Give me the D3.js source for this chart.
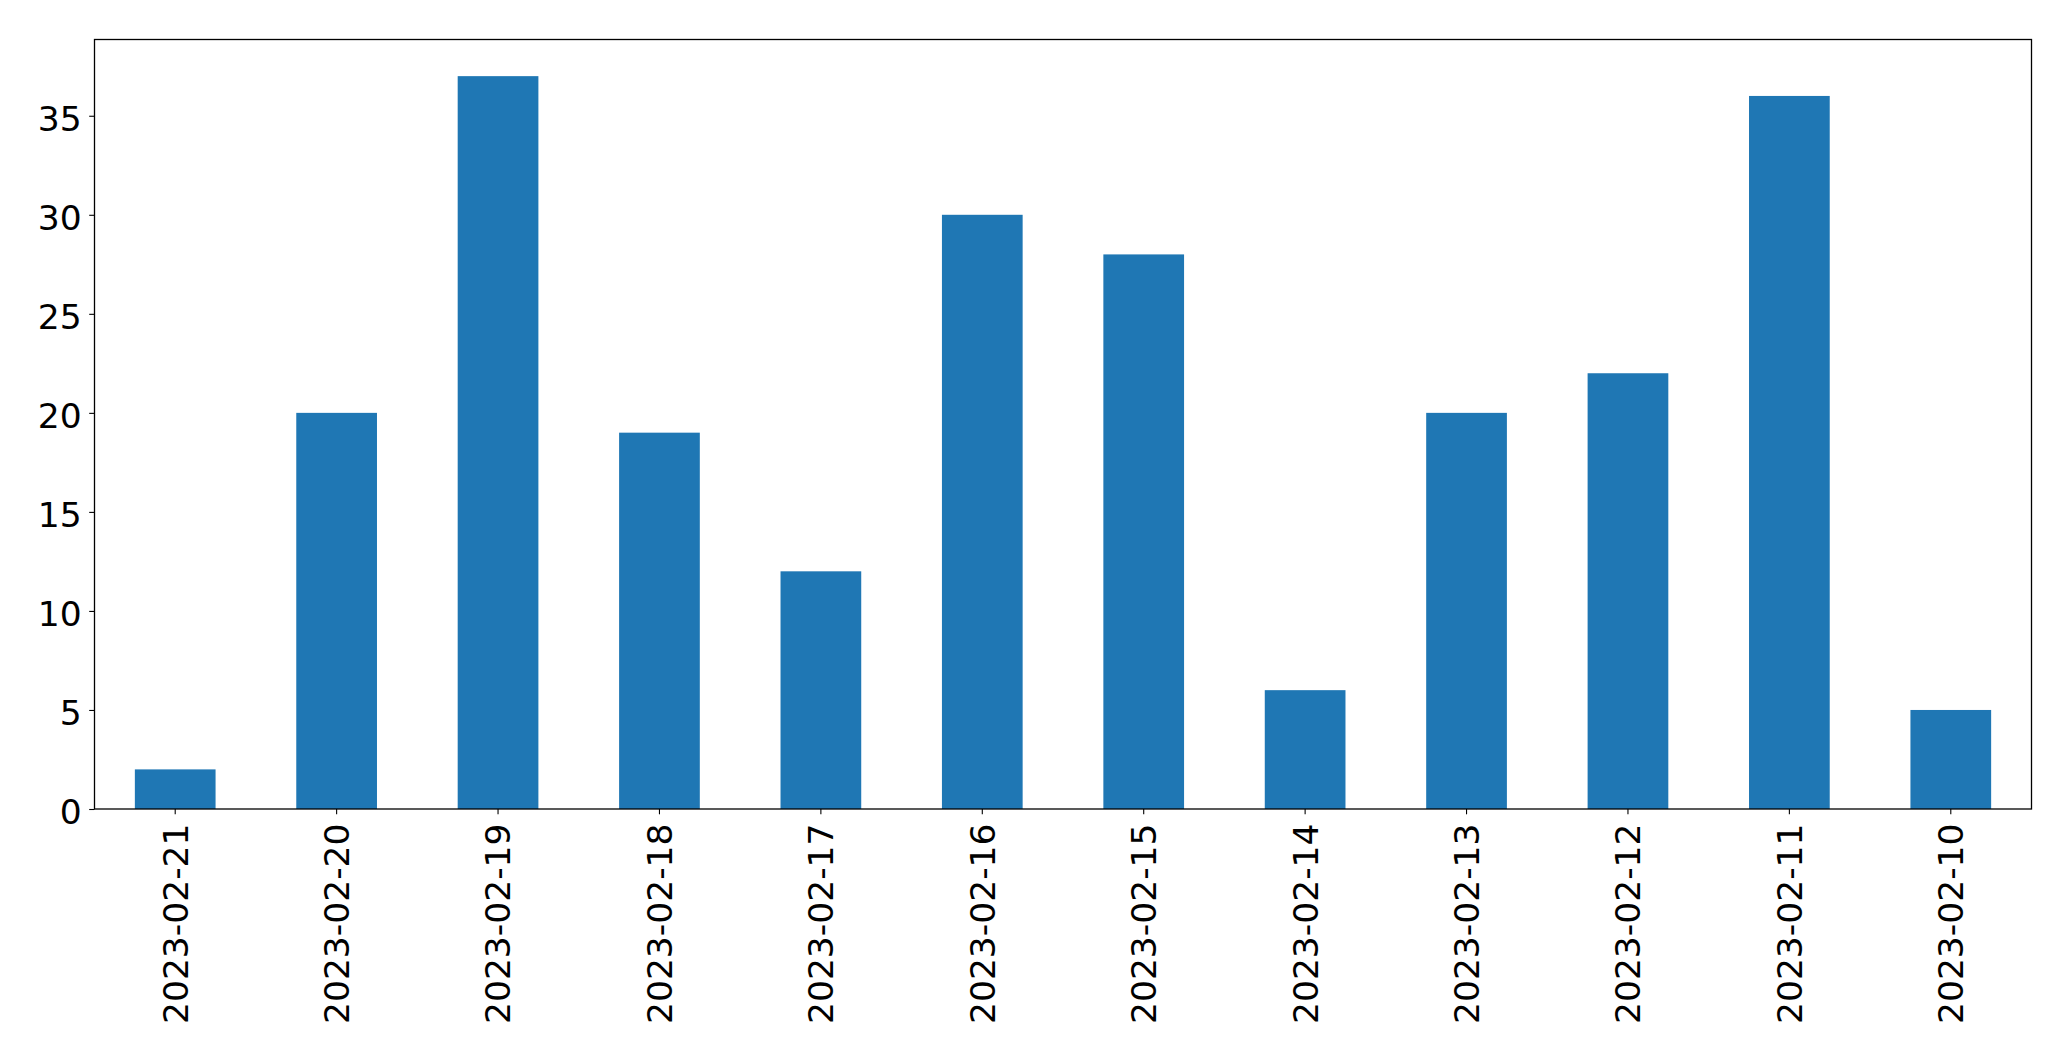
<!DOCTYPE html>
<html>
<head>
<meta charset="utf-8">
<script src="https://cdn.jsdelivr.net/npm/d3@7"></script>
<style>
  html, body { margin: 0; padding: 0; background: #fff; }
  svg { display: block; }
</style>
</head>
<body>
<svg id="chart" width="2071" height="1061"></svg>
<script>
const categories = ["2023-02-21","2023-02-20","2023-02-19","2023-02-18","2023-02-17","2023-02-16","2023-02-15","2023-02-14","2023-02-13","2023-02-12","2023-02-11","2023-02-10"];
const values = [2, 20, 37, 19, 12, 30, 28, 6, 20, 22, 36, 5];
const yTicks = [0, 5, 10, 15, 20, 25, 30, 35];

(function () {
const mLeft = 94.5, mRight = 2031.5, mTop = 39.5, mBottom = 809;
const fontFamily = "'DejaVu Sans', sans-serif";
const fontSize = 34.5;

const svg = d3.select("#chart");

const x = d3.scaleBand().domain(categories).range([mLeft, mRight]).paddingInner(0.5).paddingOuter(0.25);
const y = d3.scaleLinear().domain([0, d3.max(values) * 1.05]).range([mBottom, mTop]);

// bars
svg.append("g").selectAll("rect").data(values).join("rect")
  .attr("x", (d, i) => x(categories[i]))
  .attr("width", x.bandwidth())
  .attr("y", d => y(d))
  .attr("height", d => y(0) - y(d))
  .attr("fill", "#1f77b4");

// y axis
const yAxis = svg.append("g").attr("transform", `translate(${mLeft},0)`)
  .call(d3.axisLeft(y).tickValues(yTicks).tickSize(5.3).tickPadding(7.5).tickFormat(d3.format("d")));
yAxis.select(".domain").remove();
yAxis.selectAll("line").attr("stroke", "#000").attr("stroke-width", 1.1);
yAxis.selectAll("text").attr("font-family", fontFamily).attr("font-size", fontSize).attr("fill", "#000").attr("dy", "0.42em");

// x axis
const xAxis = svg.append("g").attr("transform", `translate(0,${mBottom})`)
  .call(d3.axisBottom(x).tickSize(5.3).tickPadding(0));
xAxis.select(".domain").remove();
xAxis.selectAll("line").attr("stroke", "#000").attr("stroke-width", 1.1);
xAxis.selectAll("text")
  .attr("font-family", fontFamily).attr("font-size", fontSize).attr("fill", "#000")
  .attr("text-anchor", "end")
  .attr("y", 0).attr("x", 0).attr("dy", "0.36em")
  .attr("transform", "translate(0,14.5) rotate(-90)");

// frame
svg.append("rect")
  .attr("x", mLeft).attr("y", mTop)
  .attr("width", mRight - mLeft).attr("height", mBottom - mTop)
  .attr("fill", "none").attr("stroke", "#000").attr("stroke-width", 1.3);
})();
</script>
</body>
</html>
